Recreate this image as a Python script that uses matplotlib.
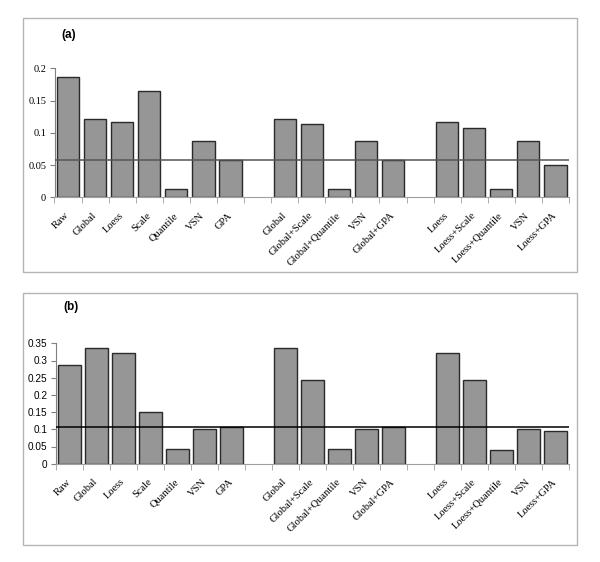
import matplotlib
matplotlib.use("Agg")
import matplotlib.pyplot as plt
from matplotlib.patches import Rectangle
import numpy as np

# Categories (empty string = gap slot)
categories = ["Raw", "Global", "Loess", "Scale", "Quantile", "VSN", "GPA", "",
              "Global", "Global+Scale", "Global+Quantile", "VSN", "Global+GPA", "",
              "Loess", "Loess+Scale", "Loess+Quantile", "VSN", "Loess+GPA"]

values_a = [0.187, 0.122, 0.117, 0.165, 0.0124, 0.0878, 0.058, np.nan,
            0.122, 0.113, 0.0124, 0.0876, 0.0583, np.nan,
            0.1165, 0.107, 0.0124, 0.0876, 0.050]
ref_a = 0.058

values_b = [0.288, 0.336, 0.321, 0.149, 0.0437, 0.0999, 0.1077, np.nan,
            0.336, 0.2435, 0.0437, 0.0995, 0.1077, np.nan,
            0.321, 0.2435, 0.0407, 0.0995, 0.096]
ref_b = 0.108

yticks_a = [0, 0.05, 0.1, 0.15, 0.2]
ytick_labels_a = ["0", "0.05", "0.1", "0.15", "0.2"]
yticks_b = [0, 0.05, 0.1, 0.15, 0.2, 0.25, 0.3, 0.35]
ytick_labels_b = ["0", "0.05", "0.1", "0.15", "0.2", "0.25", "0.3", "0.35"]

serif = "Liberation Serif"
sans = "Liberation Sans"

fig = plt.figure(figsize=(6.0, 5.62), dpi=100)
W, H = 600, 562

def px_rect(x0, y0, x1, y1):
    return [x0 / W, 1 - y1 / H, (x1 - x0) / W, (y1 - y0) / H]

# Outer frames
for (x0, y0, x1, y1) in [(23, 18, 577, 272), (23, 293, 577, 545)]:
    fig.patches.append(Rectangle((x0 / W, 1 - y1 / H), (x1 - x0) / W, (y1 - y0) / H,
                                 transform=fig.transFigure, fill=False,
                                 edgecolor="#b4b4b4", linewidth=1.0))

def draw_panel(rect, values, ref, yticks, ylabels, ymax, label, label_xy,
               ytick_font, ytick_size, refcolor):
    ax = fig.add_axes(rect)
    n = len(categories)
    x = np.arange(n)
    vals = np.array(values, dtype=float)
    mask = ~np.isnan(vals)
    ax.bar(x[mask], vals[mask], width=0.82, color="#969696",
           edgecolor="#2a2a2a", linewidth=1.0, zorder=2)
    ax.axhline(ref, color=refcolor, linewidth=1.1, zorder=3)
    ax.set_xlim(-0.5, n - 0.5)
    ax.set_ylim(0, ymax)
    for s in ["top", "right"]:
        ax.spines[s].set_visible(False)
    ax.spines["left"].set_color("#808080")
    ax.spines["bottom"].set_color("#a0a0a0")
    ax.set_yticks(yticks)
    ax.set_yticklabels(ylabels, family=ytick_font, fontsize=ytick_size)
    ax.tick_params(axis="y", length=3.5, color="#808080", pad=2.5, direction="out")
    ax.set_xticks(x)
    ax.set_xticklabels(categories, rotation=45, ha="right", va="center",
                       rotation_mode="anchor", family=serif, fontsize=7.6)
    ax.tick_params(axis="x", which="major", length=0, pad=12)
    ax.set_xticks(np.arange(n + 1) - 0.5, minor=True)
    ax.tick_params(axis="x", which="minor", length=4, color="#a0a0a0", direction="out")
    ax.patch.set_alpha(0)
    fig.text(label_xy[0] / W, 1 - label_xy[1] / H, label, family=sans,
             fontweight="bold", fontsize=8.5, ha="center", va="center")
    return ax

draw_panel(px_rect(54.5, 68.3, 569, 197.3), values_a, ref_a, yticks_a, ytick_labels_a,
           0.2, "(a)", (69, 35), serif, 7.4, "#555555")
draw_panel(px_rect(56, 343.3, 569, 463.7), values_b, ref_b, yticks_b, ytick_labels_b,
           0.35, "(b)", (71, 307), sans, 7.2, "#000000")

fig.savefig("out.png", dpi=100)
